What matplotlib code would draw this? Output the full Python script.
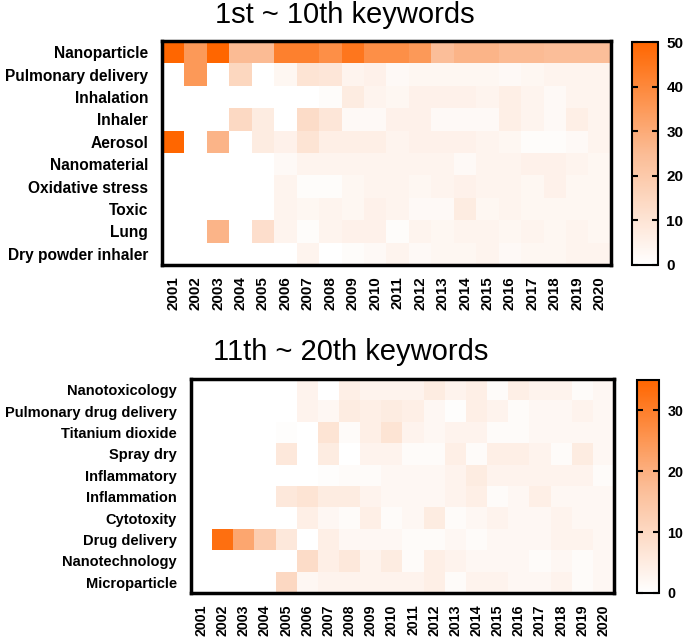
import numpy as np
import matplotlib
matplotlib.use('Agg')
import matplotlib.pyplot as plt
from matplotlib.colors import LinearSegmentedColormap

plt.rcParams['font.family'] = ['Liberation Sans', 'DejaVu Sans']

years = [str(y) for y in range(2001, 2021)]

top_keywords = ['Nanoparticle', 'Pulmonary delivery', 'Inhalation', 'Inhaler',
                'Aerosol', 'Nanomaterial', 'Oxidative stress', 'Toxic', 'Lung',
                'Dry powder inhaler']
top_counts = [
    [50, 35, 50, 25, 25, 42, 42, 38, 45, 38, 38, 35, 24, 27, 27, 25, 25, 24, 24, 24],
    [0, 35, 0, 15, 0, 3, 10, 9, 4, 5, 2, 3, 3, 3, 3, 2, 3, 4, 4, 4],
    [0, 0, 0, 0, 0, 0, 0, 1, 7, 4, 3, 5, 5, 5, 4, 6, 4, 2, 4, 4],
    [0, 0, 0, 14, 7, 0, 13, 9, 2, 2, 5, 5, 2, 2, 2, 6, 4, 2, 6, 4],
    [50, 0, 27, 0, 7, 5, 10, 6, 6, 6, 4, 5, 5, 5, 4, 3, 1, 1, 2, 4],
    [0, 0, 0, 0, 0, 2, 4, 4, 4, 4, 4, 4, 4, 2, 4, 4, 5, 5, 4, 3],
    [0, 0, 0, 0, 0, 4, 1, 1, 3, 4, 4, 3, 4, 5, 4, 4, 3, 5, 3, 3],
    [0, 0, 0, 0, 0, 4, 3, 4, 3, 5, 4, 2, 2, 7, 3, 4, 3, 3, 3, 3],
    [0, 0, 27, 0, 12, 4, 1, 4, 5, 5, 1, 4, 3, 4, 4, 3, 4, 3, 4, 3],
    [0, 0, 0, 0, 0, 0, 4, 0, 1, 2, 4, 2, 3, 3, 4, 2, 3, 3, 4, 4],
]

bottom_keywords = ['Nanotoxicology', 'Pulmonary drug delivery', 'Titanium dioxide',
                   'Spray dry', 'Inflammatory', 'Inflammation', 'Cytotoxity',
                   'Drug delivery', 'Nanotechnology', 'Microparticle']
bottom_counts = [
    [0, 0, 0, 0, 0, 3, 0, 4, 3, 3, 3, 5, 3, 4, 1, 4, 3, 3, 1, 2],
    [0, 0, 0, 0, 0, 3, 2, 5, 4, 5, 4, 2, 0.5, 4, 3, 1, 2, 2, 3, 2],
    [0, 0, 0, 0, 0.5, 0, 7, 1, 4, 7, 3, 2, 3, 3, 1, 1, 2, 2, 2, 2],
    [0, 0, 0, 0, 6, 0, 5, 0, 3, 3, 1, 1, 4, 1, 4, 4, 3, 1, 5, 2],
    [0, 0, 0, 0, 0, 0, 0.5, 1, 1, 2, 2, 2, 3, 5, 3, 3, 3, 3, 3, 1],
    [0, 0, 0, 0, 6, 7, 5, 5, 3, 2, 2, 2, 3, 4, 1, 2, 4, 2, 2, 2],
    [0, 0, 0, 0, 0, 4, 2, 1, 4, 1, 2, 5, 1, 2, 3, 2, 2, 3, 2, 2],
    [0, 33, 22, 13, 6, 0, 4, 2, 2, 2, 1, 1, 2, 1, 2, 2, 2, 3, 3, 2],
    [0, 0, 0, 0, 0, 9, 4, 6, 3, 5, 1, 4, 3, 2, 2, 2, 1, 2, 1, 2],
    [0, 0, 0, 0, 10, 2, 3, 3, 3, 3, 3, 4, 1, 3, 3, 2, 2, 3, 1, 2],
]

cmap = LinearSegmentedColormap.from_list('wo', ['#FFFFFF', '#FBBC95', '#FF6600'])

fig = plt.figure(figsize=(6.84, 6.37), dpi=100)


def draw_heatmap(rect, cbrect, data, labels, vmax, cticks, title, title_x, title_y,
                 fs):
    ax = fig.add_axes(rect)
    im = ax.imshow(np.array(data), cmap=cmap, vmin=0, vmax=vmax, aspect='auto',
                   interpolation='nearest')
    ax.set_yticks(range(len(labels)))
    ax.set_yticklabels(labels, fontsize=fs, fontweight='bold')
    ax.set_xticks(range(len(years)))
    ax.set_xticklabels(years, rotation=90, fontsize=fs * 0.97, fontweight='bold')
    ax.tick_params(axis='y', length=0, pad=10)
    ax.tick_params(axis='x', length=0, pad=8)
    for s in ax.spines.values():
        s.set_linewidth(2.5)
    cax = fig.add_axes(cbrect)
    cb = fig.colorbar(im, cax=cax, ticks=cticks)
    cb.outline.set_linewidth(1.5)
    cax.tick_params(direction='in', length=4, width=1.5, labelsize=fs * 0.98,
                    pad=6, left=True, right=True)
    for t in cax.get_yticklabels():
        t.set_fontweight('bold')
    fig.text(title_x, title_y, title, ha='center', va='center', fontsize=21)
    return ax


draw_heatmap([0.2368, 0.584, 0.6564, 0.3516], [0.924, 0.584, 0.038, 0.3500],
             top_counts, top_keywords, 50, [0, 10, 20, 30, 40, 50],
             '1st ~ 10th keywords', 0.504, 0.977, 11.2)
draw_heatmap([0.2792, 0.0691, 0.6184, 0.3359], [0.9313, 0.0691, 0.0322, 0.3344],
             bottom_counts, bottom_keywords, 35, [0, 10, 20, 30],
             '11th ~ 20th keywords', 0.513, 0.447, 10.5)

fig.savefig('out.png', dpi=100)
